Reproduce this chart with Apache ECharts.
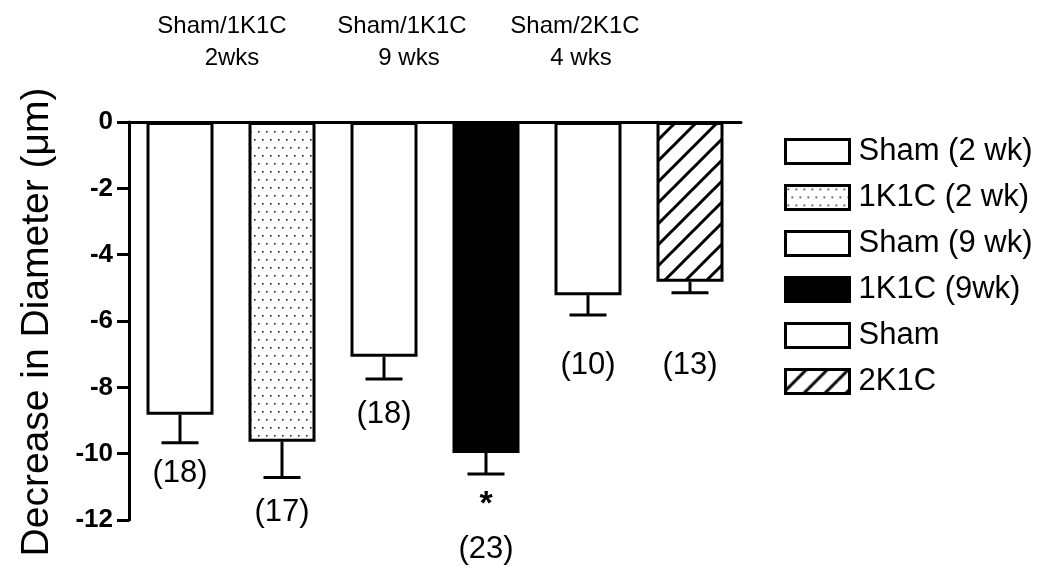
<!DOCTYPE html>
<html>
<head>
<meta charset="utf-8">
<script src="https://cdn.jsdelivr.net/npm/echarts@6/dist/echarts.min.js"></script>
<style>
  html, body { margin: 0; padding: 0; background: #fff; }
  #chart { width: 1050px; height: 581px; }
</style>
</head>
<body>
<div id="chart"></div>
<script>
// data
var groups = ['Sham (2 wk)', '1K1C (2 wk)', 'Sham (9 wk)', '1K1C (9wk)', 'Sham', '2K1C'];
var means = [-8.83, -9.64, -7.08, -9.98, -5.22, -4.82];
var errEnds = [-9.67, -10.72, -7.75, -10.61, -5.82, -5.15];
var nLabels = ['(18)', '(17)', '(18)', '(23)', '(10)', '(13)'];
var nLabelY = [-10.6, -11.77, -8.83, -12.9, -7.33, -7.33];
var starIndex = 3;
var starY = -11.55;
var yTicks = { min: -12, max: 0, interval: 2 };

var FONT = 'Arial, "Liberation Sans", sans-serif';

// fill patterns
function dotPattern() {
  var c = document.createElement('canvas');
  c.width = 16; c.height = 16;
  var g = c.getContext('2d');
  g.fillStyle = '#fff';
  g.fillRect(0, 0, 16, 16);
  g.fillStyle = '#222';
  g.fillRect(2, 3, 1.6, 1.6);
  g.fillRect(10, 3, 1.6, 1.6);
  g.fillRect(6, 11, 1.6, 1.6);
  g.fillRect(14, 11, 1.6, 1.6);
  return c;
}
function hatchPattern() {
  var s = 21;
  var c = document.createElement('canvas');
  c.width = s; c.height = s;
  var g = c.getContext('2d');
  g.fillStyle = '#fff';
  g.fillRect(0, 0, s, s);
  g.strokeStyle = '#000';
  g.lineWidth = 3;
  g.beginPath();
  g.moveTo(-2, s + 2); g.lineTo(s + 2, -2);
  g.moveTo(-2, 2); g.lineTo(2, -2);
  g.moveTo(s - 2, s + 2); g.lineTo(s + 2, s - 2);
  g.stroke();
  return c;
}

var fills = [
  '#fff',
  { image: dotPattern(), repeat: 'repeat' },
  '#fff',
  '#000',
  '#fff',
  { image: hatchPattern(), repeat: 'repeat' }
];

var myChart = echarts.init(document.getElementById('chart'));

var barSeries = groups.map(function (name, k) {
  return {
    name: name,
    type: 'bar',
    barWidth: 67,
    barGap: '-100%',
    data: groups.map(function (_, i) { return i === k ? means[i] : '-'; }),
    itemStyle: { color: fills[k], borderColor: '#000', borderWidth: 3 },
    emphasis: { disabled: true }
  };
});

var errData = means.map(function (m, i) { return [i, m, errEnds[i]]; });
var labelData = nLabels.map(function (t, i) { return [i, nLabelY[i], t]; });
labelData.push({ value: [starIndex, starY, '*'], label: { fontWeight: 'bold', fontSize: 34 } });

var option = {
  animation: false,
  grid: { left: 129, right: 309, top: 122, bottom: 61, containLabel: false },
  legend: {
    orient: 'vertical',
    left: 779,
    top: 131,
    itemWidth: 64,
    itemHeight: 24,
    itemGap: 15,
    icon: 'rect',
    data: groups,
    selectedMode: false,
    itemStyle: { borderColor: '#000', borderWidth: 3 },
    textStyle: { fontFamily: FONT, fontSize: 31, color: '#000', lineHeight: 24, padding: [0, 0, 0, 4] }
  },
  xAxis: {
    type: 'category',
    data: groups,
    axisLine: { lineStyle: { color: '#000', width: 3 } },
    axisTick: { show: false },
    axisLabel: { show: false },
    splitLine: { show: false }
  },
  yAxis: {
    type: 'value',
    min: yTicks.min,
    max: yTicks.max,
    interval: yTicks.interval,
    axisLine: { show: true, lineStyle: { color: '#000', width: 3 } },
    axisTick: { show: true, length: 12, lineStyle: { color: '#000', width: 3 } },
    axisLabel: { margin: 16, fontFamily: FONT, fontSize: 26, fontWeight: 'bold', color: '#000' },
    splitLine: { show: false }
  },
  graphic: [
    { type: 'text', x: 37, y: 322, rotation: Math.PI / 2,
      style: { text: 'Decrease in Diameter (\u03bcm)', font: '39px ' + FONT, fill: '#000', align: 'center', verticalAlign: 'middle' } },
    { type: 'text', x: 222, y: 26, style: { text: 'Sham/1K1C', font: '24px ' + FONT, fill: '#000', align: 'center', verticalAlign: 'middle' } },
    { type: 'text', x: 232, y: 58, style: { text: '2wks', font: '24px ' + FONT, fill: '#000', align: 'center', verticalAlign: 'middle' } },
    { type: 'text', x: 402, y: 26, style: { text: 'Sham/1K1C', font: '24px ' + FONT, fill: '#000', align: 'center', verticalAlign: 'middle' } },
    { type: 'text', x: 409, y: 58, style: { text: '9 wks', font: '24px ' + FONT, fill: '#000', align: 'center', verticalAlign: 'middle' } },
    { type: 'text', x: 575, y: 26, style: { text: 'Sham/2K1C', font: '24px ' + FONT, fill: '#000', align: 'center', verticalAlign: 'middle' } },
    { type: 'text', x: 581, y: 58, style: { text: '4 wks', font: '24px ' + FONT, fill: '#000', align: 'center', verticalAlign: 'middle' } }
  ],
  series: barSeries.concat([
    {
      name: 'err',
      type: 'custom',
      z: 5,
      data: errData,
      encode: { x: 0, y: [1, 2] },
      renderItem: function (params, api) {
        var x = api.value(0);
        var a = api.coord([x, api.value(1)]);
        var b = api.coord([x, api.value(2)]);
        var hw = 18.5;
        return {
          type: 'group',
          children: [
            { type: 'line', shape: { x1: a[0], y1: a[1], x2: b[0], y2: b[1] }, style: { stroke: '#000', lineWidth: 3 } },
            { type: 'line', shape: { x1: b[0] - hw, y1: b[1], x2: b[0] + hw, y2: b[1] }, style: { stroke: '#000', lineWidth: 3 } }
          ]
        };
      }
    },
    {
      name: 'n',
      type: 'scatter',
      symbolSize: 0,
      clip: false,
      itemStyle: { opacity: 1 },
      data: labelData,
      label: {
        show: true,
        position: 'inside',
        formatter: function (p) { return p.value[2]; },
        fontFamily: FONT,
        fontSize: 31,
        color: '#000',
        opacity: 1,
        textBorderWidth: 0
      }
    }
  ])
};

myChart.setOption(option);
window.addEventListener('resize', function () { myChart.resize(); });
</script>
</body>
</html>
